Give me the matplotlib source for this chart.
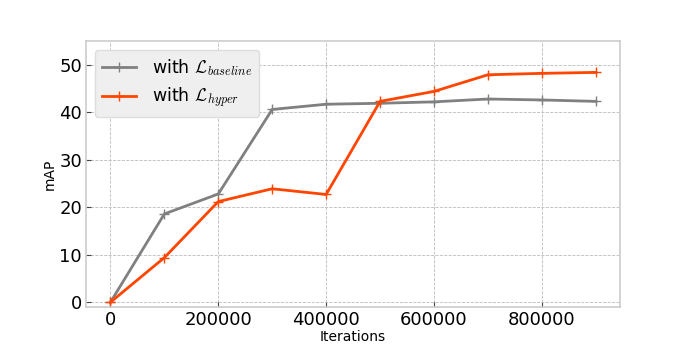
import matplotlib.pyplot as plt

iterations = [0, 100000, 200000, 300000, 400000, 500000, 600000, 700000, 800000, 900000]
map_baseline = [0, 18.6, 22.8, 40.6, 41.7, 41.9, 42.2, 42.8, 42.6, 42.3]
map_hyper = [0, 9.4, 21.2, 23.9, 22.7, 42.3, 44.4, 47.9, 48.2, 48.4]

plt.rcParams['mathtext.fontset'] = 'cm'

fig, ax = plt.subplots(figsize=(6.89, 3.45), dpi=100)
fig.subplots_adjust(left=0.125, right=0.9, top=0.881, bottom=0.111)

ax.plot(iterations, map_baseline, color='gray', lw=2, marker='+', ms=7,
        label=r'with $\mathcal{L}_{baseline}$')
ax.plot(iterations, map_hyper, color='orangered', lw=2, marker='+', ms=7,
        label=r'with $\mathcal{L}_{hyper}$')

ax.set_ylim(-0.93, 55)
ax.set_xticks([0, 200000, 400000, 600000, 800000])
ax.set_yticks([0, 10, 20, 30, 40, 50])
ax.grid(True, ls='--', lw=0.6, color='#bbbbbb')
ax.tick_params(direction='in', labelsize=13, color='#444444', pad=3)
for s in ax.spines.values():
    s.set_color('#cccccc')
    s.set_linewidth(1.2)

ax.set_xlabel('Iterations', fontsize=10, labelpad=1)
ax.set_ylabel('mAP', fontsize=10, labelpad=2)
leg = ax.legend(loc='upper left', fontsize=12.5, fancybox=True, framealpha=1,
                handlelength=2.0, handletextpad=0.9)
leg.get_frame().set_facecolor('#efefef')
leg.get_frame().set_edgecolor('#dddddd')

plt.savefig('out.png', dpi=100)
